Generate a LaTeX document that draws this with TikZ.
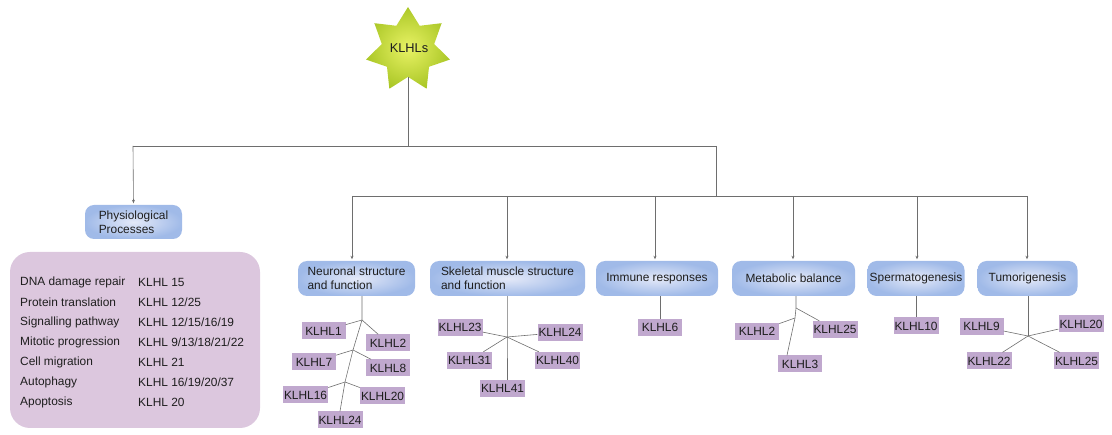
\documentclass[tikz,border=0pt]{standalone}
\usepackage{fontspec}
\setmainfont{Liberation Sans}
\usetikzlibrary{shapes.geometric,arrows.meta}
\definecolor{bluee}{RGB}{160,186,232}
\definecolor{bluec}{RGB}{228,233,248}
\definecolor{purp}{RGB}{192,168,206}
\definecolor{panelc}{RGB}{220,199,222}
\definecolor{linec}{RGB}{110,110,110}
\definecolor{txt}{RGB}{30,30,30}
\definecolor{staro}{RGB}{172,200,40}
\definecolor{stari}{RGB}{232,242,100}
\begin{document}
\begin{tikzpicture}[x=1pt,y=-1pt,
  font=\fontsize{11.9}{14}\selectfont,
  cat/.style={rounded corners=9pt, inner color=bluec, outer color=bluee, minimum height=35pt, text=txt, inner sep=2pt},
  kbox/.style={fill=purp, minimum height=17pt, minimum width=44pt, inner xsep=1pt, inner ysep=0pt, text=txt},
  conn/.style={draw=linec, line width=0.6pt},
  arr/.style={conn, -{Stealth[length=3.5pt,width=3pt]}, shorten >=1.5pt},
  rowtxt/.style={anchor=west, text=txt, inner sep=0pt}]
\useasboundingbox (0,0) rectangle (1112,435);

% star
\node[star, star points=7, star point ratio=1.6, minimum size=86pt, inner sep=0pt,
      inner color=stari, outer color=staro] (star) at (408,50) {};
\node[text=txt, font=\fontsize{12.8}{14}\selectfont] (klhls) at (409,48) {KLHLs};

% junctions
\coordinate (jtop) at (405,146);
\coordinate (jl) at (133,146);
\coordinate (jr) at (716,146);
\coordinate (jr2) at (716,196);
\coordinate (h1) at (352,196);
\coordinate (h2) at (507,196);
\coordinate (h3) at (655,196);
\coordinate (h4) at (793,196);
\coordinate (h5) at (917,196);
\coordinate (h6) at (1027,196);

% physiological
\node[cat, minimum width=97pt, minimum height=34pt, align=left] (phys) at (133.5,222) {Physiological\\Processes};
\node[fill=panelc, rounded corners=20pt, minimum width=250pt, minimum height=176pt] (panel) at (135,340) {};
\node[rowtxt] (r1a) at (20,282) {DNA damage repair};
\node[rowtxt] (r2a) at (20,302) {Protein translation};
\node[rowtxt] (r3a) at (20,322) {Signalling pathway};
\node[rowtxt] (r4a) at (20,342) {Mitotic progression};
\node[rowtxt] (r5a) at (20,362) {Cell migration};
\node[rowtxt] (r6a) at (20,382) {Autophagy};
\node[rowtxt] (r7a) at (20,402) {Apoptosis};
\node[rowtxt] (r1b) at (138,282) {KLHL 15};
\node[rowtxt] (r2b) at (138,302) {KLHL 12/25};
\node[rowtxt] (r3b) at (138,322) {KLHL 12/15/16/19};
\node[rowtxt] (r4b) at (138,342) {KLHL 9/13/18/21/22};
\node[rowtxt] (r5b) at (138,362) {KLHL 21};
\node[rowtxt] (r6b) at (138,382) {KLHL 16/19/20/37};
\node[rowtxt] (r7b) at (138,402) {KLHL 20};

% category boxes
\node[cat, minimum width=117pt, align=left] (neu) at (356.5,278.5) {Neuronal structure\\and function};
\node[cat, minimum width=155pt, align=left] (ske) at (507.5,278.5) {Skeletal muscle structure\\and function};
\node[cat, minimum width=122pt] (imm) at (657,278.5) {Immune responses};
\node[cat, minimum width=123pt] (met) at (793.5,278.5) {Metabolic balance};
\node[cat, minimum width=97pt] (spe) at (916,278.5) {Spermatogenesis};
\node[cat, minimum width=100pt] (tum) at (1027.5,278.5) {Tumorigenesis};

% top connectors
\draw[conn] (star.south) -- (star.south |- jtop);
\draw[conn] (jl) -- (jr);
\draw[arr] (jl) -- (phys.north);
\draw[conn] (jr) -- (jr2);
\draw[conn] (h1) -- (h6);
\draw[arr] (h1) -- (h1 |- neu.north);
\draw[arr] (h2) -- (h2 |- ske.north);
\draw[arr] (h3) -- (h3 |- imm.north);
\draw[arr] (h4) -- (h4 |- met.north);
\draw[arr] (h5) -- (h5 |- spe.north);
\draw[arr] (h6) -- (h6 |- tum.north);

% neuronal tree
\node[kbox] (k1) at (323.5,331) {KLHL1};
\node[kbox] (k2) at (388,343) {KLHL2};
\node[kbox] (k7) at (314,362) {KLHL7};
\node[kbox] (k8) at (388,368) {KLHL8};
\node[kbox] (k16) at (305.5,395) {KLHL16};
\node[kbox] (k20) at (382.5,396) {KLHL20};
\node[kbox] (k24) at (340,420) {KLHL24};
\coordinate (n1) at (362,320);
\coordinate (n2) at (353,350);
\coordinate (n3) at (345,382);
\draw[conn] (n1 |- neu.south) -- (n1) -- (n2) -- (n3) -- (k24.north);
\draw[conn] (n1) -- (k1);
\draw[conn] (n1) -- (k2);
\draw[conn] (n2) -- (k7);
\draw[conn] (n2) -- (k8);
\draw[conn] (n3) -- (k16);
\draw[conn] (n3) -- (k20);

% skeletal
\node[kbox] (s23) at (460,327.5) {KLHL23};
\node[kbox] (s24) at (560,332.5) {KLHL24};
\node[kbox] (s31) at (469.5,360.5) {KLHL31};
\node[kbox] (s40) at (557.5,360.5) {KLHL40};
\node[kbox] (s41) at (502.5,388.5) {KLHL41};
\coordinate (sc) at (507,337);
\draw[conn] (sc |- ske.south) -- (sc) -- (sc |- s41.north);
\draw[conn] (s23) -- (sc) -- (s40);
\draw[conn] (s24) -- (sc) -- (s31);

% immune
\node[kbox] (i6) at (660,327.5) {KLHL6};
\draw[conn] (i6.north |- imm.south) -- (i6.north);

% metabolic
\node[kbox] (m2) at (757,331.5) {KLHL2};
\node[kbox] (m25) at (835,329.5) {KLHL25};
\node[kbox] (m3) at (800,364) {KLHL3};
\coordinate (ma) at (796,308);
\coordinate (mb) at (795,318);
\draw[conn] (ma |- met.south) -- (ma) -- (mb) -- ([xshift=-13pt]m3.north);
\draw[conn] (ma) -- (m25);
\draw[conn] (mb) -- (m2);

% spermatogenesis
\node[kbox] (k10) at (916,326) {KLHL10};
\draw[conn] (spe.south) -- (k10.north);

% tumorigenesis
\node[kbox] (t9) at (981.5,326.5) {KLHL9};
\node[kbox] (t20) at (1081,324) {KLHL20};
\node[kbox] (t22) at (989,361) {KLHL22};
\node[kbox] (t25) at (1076.5,361) {KLHL25};
\coordinate (tc) at (1028,336);
\draw[conn] (tc |- tum.south) -- (tc);
\draw[conn] (t9) -- (tc) -- (t25);
\draw[conn] (t20) -- (tc) -- (t22);
\end{tikzpicture}
\end{document}
